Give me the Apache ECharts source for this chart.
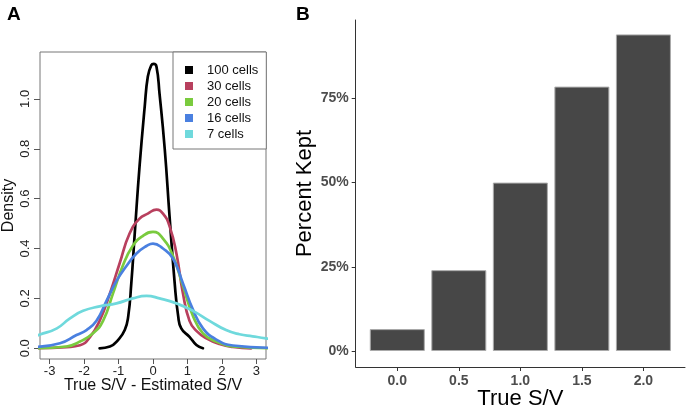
<!DOCTYPE html>
<html>
<head>
<meta charset="utf-8">
<script src="https://cdn.jsdelivr.net/npm/echarts@6/dist/echarts.min.js"></script>
<style>html,body{margin:0;padding:0;background:#fff;}#c{width:688px;height:409px;}</style>
</head>
<body>
<div id="c"></div>
<script>
// Panel A: density curves [x, density]
const dens100 = [[-1.55,0],[-1.25,0.007],[-1.01,0.034],[-0.82,0.073],[-0.72,0.127],[-0.63,0.26],[-0.53,0.46],[-0.39,0.73],[-0.24,0.97],[-0.15,1.09],[-0.05,1.135],[0.02,1.14],[0.1,1.13],[0.19,1.02],[0.34,0.80],[0.48,0.53],[0.63,0.26],[0.73,0.13],[0.82,0.08],[1.06,0.046],[1.26,0.013],[1.45,0]];
const dens30 = [[-3.4,0],[-2.51,0.005],[-2.12,0.012],[-1.83,0.045],[-1.55,0.11],[-1.25,0.22],[-0.97,0.34],[-0.68,0.46],[-0.39,0.52],[-0.15,0.54],[0.1,0.556],[0.29,0.54],[0.48,0.49],[0.68,0.38],[0.87,0.22],[1.06,0.11],[1.26,0.07],[1.55,0.04],[1.93,0.017],[2.32,0.005],[2.85,0]];
const dens20 = [[-3.4,0],[-2.51,0.007],[-2.12,0.027],[-1.74,0.06],[-1.45,0.11],[-1.16,0.22],[-0.88,0.33],[-0.59,0.41],[-0.30,0.45],[0,0.467],[0.29,0.44],[0.58,0.37],[0.87,0.25],[1.16,0.13],[1.45,0.06],[1.84,0.027],[2.32,0.007],[3.4,0]];
const dens16 = [[-3.4,0.005],[-2.7,0.02],[-2.22,0.053],[-1.93,0.073],[-1.64,0.11],[-1.35,0.19],[-1.06,0.27],[-0.77,0.33],[-0.48,0.38],[-0.19,0.41],[0,0.42],[0.29,0.40],[0.58,0.36],[0.87,0.26],[1.16,0.155],[1.45,0.08],[1.84,0.035],[2.32,0.011],[3.4,0.002]];
const dens7 = [[-3.4,0.05],[-3.28,0.055],[-2.79,0.08],[-2.41,0.12],[-2.03,0.15],[-1.55,0.168],[-1.06,0.18],[-0.59,0.20],[-0.19,0.21],[0.19,0.20],[0.68,0.18],[1.16,0.15],[1.64,0.11],[2.12,0.073],[2.51,0.056],[2.89,0.048],[3.28,0.04],[3.4,0.038]];
const seriesNames = ['100 cells','30 cells','20 cells','16 cells','7 cells'];
const seriesColors = ['#000000','#B8405E','#7ACB3E','#4A80E0','#6FD9DC'];
const xTicksA = [-3,-2,-1,0,1,2,3];
const yTicksA = [0,0.2,0.4,0.6,0.8,1.0];

// Panel B
const trueSV = [0,0.5,1.0,1.5,2.0];
const percentKept = [0.065,0.24,0.50,0.785,0.94];
const yTicksB = [0,0.25,0.5,0.75];

const densData = [dens100,dens30,dens20,dens16,dens7];
const font = 'Liberation Sans, Arial, sans-serif';

const chart = echarts.init(document.getElementById('c'), null, {renderer:'canvas'});
const lineSeries = densData.map((d,i)=>({
  name: seriesNames[i], type:'line', xAxisIndex:0, yAxisIndex:0,
  data: d, showSymbol:false, smooth:0.5,
  lineStyle:{color:seriesColors[i], width:2.7, cap:'round', join:'round'}, itemStyle:{color:seriesColors[i]},
  clip:true, z: 2+i
}));

chart.setOption({
  animation:false,
  textStyle:{fontFamily:font},
  title:[
    {text:'A', left:2, top:0, textStyle:{fontSize:19, fontWeight:'bold', color:'#000', fontFamily:font}},
    {text:'B', left:291, top:0, textStyle:{fontSize:19, fontWeight:'bold', color:'#000', fontFamily:font}}
  ],
  legend:{
    orient:'vertical', left:173, top:52, width:93,
    data: seriesNames,
    borderColor:'#777', borderWidth:1, borderRadius:0,
    padding:[11,8,8,12],
    backgroundColor:'#fff',
    itemWidth:17, itemHeight:8, itemGap:2,
    icon:'path://M0,0h8v8h-8zM17,8h0.01v0.01h-0.01z',
    textStyle:{fontSize:13, color:'#111', lineHeight:14, fontFamily:font},
    selectedMode:false, z:10
  },
  grid:[
    {left:40, top:52, width:226, height:307, show:true, borderColor:'#777', borderWidth:1, backgroundColor:'transparent', outerBoundsMode:'none', containLabel:false},
    {left:355.7, top:20, width:329.3, height:347, outerBoundsMode:'none', containLabel:false}
  ],
  xAxis:[
    {type:'value', gridIndex:0, min:-3.28, max:3.28,
     axisLine:{show:false, onZero:false}, splitLine:{show:false},
     axisTick:{show:true, length:5, lineStyle:{color:'#555'}, customValues:xTicksA},
     axisLabel:{fontSize:13, color:'#222', margin:6, customValues:xTicksA, fontFamily:font},
     name:'True S/V - Estimated S/V', nameLocation:'middle', nameGap:19, nameMoveOverlap:false,
     nameTextStyle:{fontSize:16, color:'#111', fontFamily:font}},
    {type:'value', gridIndex:1, min:-0.338, max:2.338,
     axisLine:{show:true, onZero:false, lineStyle:{color:'#333', width:1}}, splitLine:{show:false},
     axisTick:{show:true, length:4, lineStyle:{color:'#333'}, customValues:trueSV},
     axisLabel:{fontSize:14, fontWeight:'bold', color:'#4D4D4D', margin:7, customValues:trueSV,
       formatter:v=>v.toFixed(1), fontFamily:font},
     name:'True S/V', nameLocation:'middle', nameGap:21, nameMoveOverlap:false,
     nameTextStyle:{fontSize:22, color:'#000', fontFamily:font}}
  ],
  yAxis:[
    {type:'value', gridIndex:0, min:-0.043, max:1.188,
     axisLine:{show:false, onZero:false}, splitLine:{show:false},
     axisTick:{show:true, length:6, lineStyle:{color:'#555'}, customValues:yTicksA},
     axisLabel:{fontSize:13, color:'#222', rotate:90, margin:8, customValues:yTicksA,
       formatter:v=>v.toFixed(1), fontFamily:font},
     name:'Density', nameLocation:'middle', nameGap:23, nameRotate:90, nameMoveOverlap:false,
     nameTextStyle:{fontSize:16, color:'#111', fontFamily:font}},
    {type:'value', gridIndex:1, min:-0.0475, max:0.9828,
     axisLine:{show:true, onZero:false, lineStyle:{color:'#333', width:1}}, splitLine:{show:false},
     axisTick:{show:true, length:4, lineStyle:{color:'#333'}, customValues:yTicksB},
     axisLabel:{fontSize:14, fontWeight:'bold', color:'#4D4D4D', margin:7, customValues:yTicksB,
       formatter:v=>Math.round(v*100)+'%', fontFamily:font},
     name:'Percent Kept', nameLocation:'middle', nameGap:40, nameRotate:90, nameMoveOverlap:false,
     nameTextStyle:{fontSize:22, color:'#000', fontFamily:font}}
  ],
  series: lineSeries.concat([{
    type:'bar', xAxisIndex:1, yAxisIndex:1,
    data: trueSV.map((x,i)=>[x,percentKept[i]]),
    barWidth:55,
    itemStyle:{color:'#474747', borderColor:'#aaaaaa', borderWidth:1}
  }])
});
</script>
</body>
</html>
